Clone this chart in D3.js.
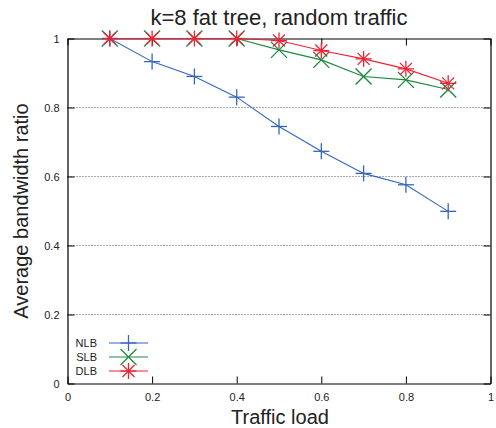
<!DOCTYPE html>
<html><head><meta charset="utf-8">
<script src="https://cdn.jsdelivr.net/npm/d3@7"></script>
<style>body{margin:0;background:#fff}svg{display:block}text{font-family:"Liberation Sans",Arial,sans-serif}</style>
</head><body>
<script>
const loads = [0.1,0.2,0.3,0.4,0.5,0.6,0.7,0.8,0.9];
const nlb = [1.0,0.933,0.89,0.83,0.745,0.673,0.609,0.576,0.499];
const slb = [1.0,1.0,1.0,1.0,0.967,0.938,0.89,0.88,0.852];
const dlb = [1.0,1.0,1.0,1.0,0.994,0.965,0.941,0.912,0.870];
const seriesNames = ["NLB","SLB","DLB"];
const seriesColors = ["#3366bb","#1a8a3e","#ee2233"];
const seriesMarkers = ["plus","cross","star"];
const xTicks = [0,0.2,0.4,0.6,0.8,1];
const yTicks = [0,0.2,0.4,0.6,0.8,1];
const tickLabels = ["0","0.2","0.4","0.6","0.8","1"];

(function(){
const W=496,H=428;
const m={l:67.5,r:5.5,t:38.5,b:44.5};
const svg=d3.select("body").append("svg").attr("width",W).attr("height",H);
const x=d3.scaleLinear().domain([0,1]).range([m.l,W-m.r]);
const y=d3.scaleLinear().domain([0,1]).range([H-m.b,m.t]);

svg.append("g").selectAll("line").data([0.2,0.4,0.6,0.8]).join("line")
  .attr("x1",x(0)).attr("x2",x(1)).attr("y1",d=>y(d)).attr("y2",d=>y(d))
  .attr("stroke","#555").attr("stroke-width",1).attr("stroke-dasharray","1,2");

const tk=7;
const gB=svg.append("g").attr("transform",`translate(0,${y(0)})`)
  .call(d3.axisBottom(x).tickValues(xTicks).tickFormat((d,i)=>tickLabels[i]).tickSizeInner(-tk).tickSizeOuter(0).tickPadding(10));
const gT=svg.append("g").attr("transform",`translate(0,${y(1)})`)
  .call(d3.axisTop(x).tickValues(xTicks).tickFormat("").tickSizeInner(-tk).tickSizeOuter(0));
const gL=svg.append("g").attr("transform",`translate(${x(0)},0)`)
  .call(d3.axisLeft(y).tickValues(yTicks).tickFormat((d,i)=>tickLabels[i]).tickSizeInner(-tk).tickSizeOuter(0).tickPadding(8));
const gR=svg.append("g").attr("transform",`translate(${x(1)},0)`)
  .call(d3.axisRight(y).tickValues(yTicks).tickFormat("").tickSizeInner(-tk).tickSizeOuter(0));
[gB,gT,gL,gR].forEach(g=>{
  g.selectAll("path.domain").attr("stroke","#000").attr("stroke-width",1.2);
  g.selectAll(".tick line").attr("stroke","#000").attr("stroke-width",1);
  g.selectAll("text").attr("font-size",11).attr("fill","#222").attr("font-family","Liberation Sans, Arial, sans-serif");
});

function marker(g,type,cx,cy,color){
  const s=8;
  let segs=[];
  if(type==="plus") segs=[[-s,0,s,0],[0,-s,0,s]];
  else if(type==="cross") segs=[[-s,-s,s,s],[-s,s,s,-s]];
  else segs=[[-s,0,s,0],[0,-s,0,s],[-s*0.75,-s*0.75,s*0.75,s*0.75],[-s*0.75,s*0.75,s*0.75,-s*0.75]];
  segs.forEach(a=>g.append("line").attr("x1",cx+a[0]).attr("y1",cy+a[1]).attr("x2",cx+a[2]).attr("y2",cy+a[3])
    .attr("stroke",color).attr("stroke-width",1.3));
}
const all=[nlb,slb,dlb];
const line=d3.line().x((d,i)=>x(loads[i])).y(d=>y(d));
all.forEach((vals,k)=>{
  const g=svg.append("g");
  g.append("path").attr("d",line(vals)).attr("fill","none").attr("stroke",seriesColors[k]).attr("stroke-width",1.1);
  vals.forEach((v,i)=>marker(g,seriesMarkers[k],x(loads[i]),y(v),seriesColors[k]));
});

seriesNames.forEach((n,k)=>{
  const ly=343+k*14;
  svg.append("text").attr("x",97).attr("y",ly+4).attr("text-anchor","end").attr("font-size",11).attr("fill","#222").text(n);
  svg.append("line").attr("x1",109).attr("x2",148).attr("y1",ly).attr("y2",ly).attr("stroke",seriesColors[k]).attr("stroke-width",1.1);
  marker(svg,seriesMarkers[k],128.5,ly,seriesColors[k]);
});

svg.append("text").attr("x",279).attr("y",25).attr("text-anchor","middle").attr("font-size",22).attr("fill","#222").text("k=8 fat tree, random traffic");
svg.append("text").attr("x",280).attr("y",424).attr("text-anchor","middle").attr("font-size",20).attr("fill","#222").text("Traffic load");
svg.append("text").attr("transform",`translate(28,211) rotate(-90)`).attr("text-anchor","middle").attr("font-size",20).attr("fill","#222").text("Average bandwidth ratio");
})();
</script>
</body></html>
